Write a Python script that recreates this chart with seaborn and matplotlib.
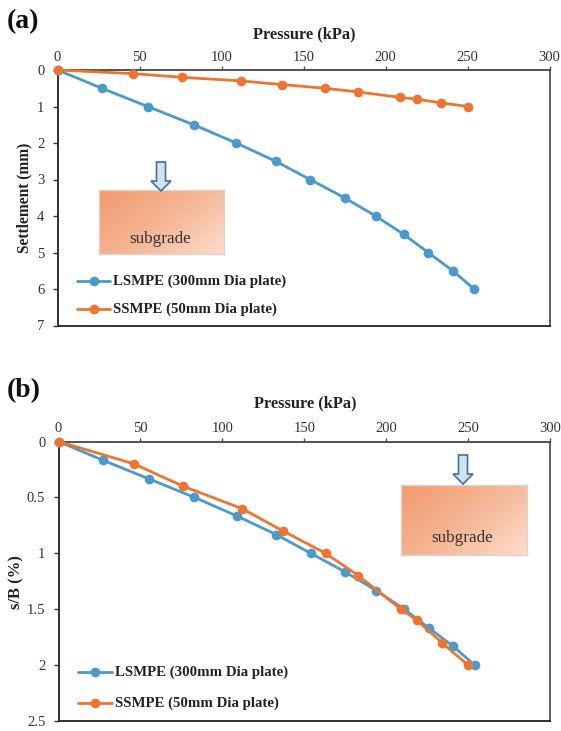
import numpy as np
import pandas as pd
import matplotlib
matplotlib.use('Agg')
import matplotlib.pyplot as plt
from matplotlib.colors import LinearSegmentedColormap
from matplotlib.lines import Line2D
from matplotlib.patches import Polygon
import seaborn as sns

# values
pressure_l = [0, 27, 55, 83, 109, 133, 154, 175, 194, 211, 226, 241, 254]
settlement_l = [0, 0.5, 1, 1.5, 2, 2.5, 3, 3.5, 4, 4.5, 5, 5.5, 6]
sb_l = [0, 0.167, 0.333, 0.5, 0.667, 0.833, 1, 1.167, 1.333, 1.5, 1.667, 1.833, 2]

pressure_s = [0, 46, 76, 112, 137, 163, 183, 209, 219, 234, 250]
settlement_s = [0, 0.1, 0.2, 0.3, 0.4, 0.5, 0.6, 0.75, 0.8, 0.9, 1]
sb_s = [0, 0.2, 0.4, 0.6, 0.8, 1, 1.2, 1.5, 1.6, 1.8, 2]

x_ticks = [0, 50, 100, 150, 200, 250, 300]
y_ticks_a = [0, 1, 2, 3, 4, 5, 6, 7]
y_ticks_b = [0, 0.5, 1, 1.5, 2, 2.5]
y_labels_b = ['0', '0.5', '1', '1.5', '2', '2.5']
labels = ['LSMPE (300mm Dia plate)', 'SSMPE (50mm Dia plate)']

BLUE = '#4a9acb'
ORANGE = '#ee7431'
W, H = 561, 731

sns.set_theme(style='white')
plt.rcParams['font.family'] = ['Liberation Serif', 'DejaVu Serif']

fig = plt.figure(figsize=(W / 100, H / 100), dpi=100)


def make_axes(left, right, top, bottom):
    return fig.add_axes([left / W, 1 - bottom / H, (right - left) / W, (bottom - top) / H])


def draw_panel(ax, ymax, yticks, ylabels, yvals_l, yvals_s):
    df = pd.concat([
        pd.DataFrame({'p': pressure_l, 'y': yvals_l, 'test': labels[0]}),
        pd.DataFrame({'p': pressure_s, 'y': yvals_s, 'test': labels[1]}),
    ])
    sns.lineplot(data=df, x='p', y='y', hue='test', palette=[BLUE, ORANGE], sort=False,
                 estimator=None, marker='o', markersize=7, markeredgewidth=0,
                 linewidth=2, ax=ax, legend=False, clip_on=False, zorder=4)
    ax.set_xlim(0, 300)
    ax.set_ylim(ymax, 0)
    ax.xaxis.tick_top()
    ax.set_xticks(x_ticks)
    ax.set_yticks(yticks)
    ax.set_yticklabels(ylabels)
    ax.tick_params(axis='x', length=3, width=1, color='#555555', pad=1.5, labelsize=10.5, labelcolor='#333333')
    ax.tick_params(axis='y', left=True, length=3.5, width=1, color='#333333', pad=6, labelsize=10.5,
                   labelcolor='#333333')
    ax.set_xlabel('')
    ax.set_ylabel('')
    for s in ax.spines.values():
        s.set_color('#555555')
        s.set_linewidth(1.3)
    ax.spines['left'].set_color('#222222')
    ax.spines['bottom'].set_color('#222222')
    ax.spines['top'].set_color('#444444')


def subgrade(left, top, right, bottom, arrow_x, arrow_top):
    # box with a diagonal gradient, drawn in pixel positions on its own axes
    box = make_axes(left, right, top, bottom)
    grad = np.linspace(0, 1, 200)[None, :] * 0.6 + np.linspace(0, 1, 100)[:, None] * 0.4
    cmap = LinearSegmentedColormap.from_list('sub', ['#f29a6e', '#f5b594', '#fddccb'])
    box.imshow(grad, cmap=cmap, aspect='auto', extent=[0, 1, 0, 1], origin='upper')
    box.set_xticks([])
    box.set_yticks([])
    for s in box.spines.values():
        s.set_color('#d9d4d0')
        s.set_linewidth(1)
    box.text(0.49, 0.24, 'subgrade', transform=box.transAxes, ha='center', va='center',
             fontsize=12.3, color='#333333')
    # arrow
    px = np.array([[-4.5, 0], [4.5, 0], [4.5, 19], [10, 19], [0, 29], [-10, 19], [-4.5, 19]], dtype=float)
    px[:, 0] = (arrow_x + px[:, 0]) / W
    px[:, 1] = 1 - (arrow_top + px[:, 1]) / H
    fig.add_artist(Polygon(px, closed=True, transform=fig.transFigure, facecolor='#d3e2f1',
                           edgecolor='#41719c', linewidth=1.2, zorder=6))


def own_legend(x0, x1, xt, ys):
    for y, c, lab in zip(ys, [BLUE, ORANGE], labels):
        fig.add_artist(Line2D([x0 / W, x1 / W], [1 - y / H, 1 - y / H], color=c, linewidth=2,
                              transform=fig.transFigure, zorder=7))
        fig.add_artist(Line2D([(x0 + x1) / 2 / W], [1 - y / H], color=c, marker='o', markersize=7,
                              markeredgewidth=0, transform=fig.transFigure, zorder=7))
        fig.text(xt / W, 1 - y / H, lab, fontweight='bold', fontsize=10.7, va='center', ha='left',
                 color='#222222', zorder=7)


# panel a
ax1 = make_axes(57.5, 549.5, 70, 325.5)
draw_panel(ax1, 7, y_ticks_a, y_ticks_a, settlement_l, settlement_s)
fig.text(24 / W, 1 - 198 / H, 'Settlement (mm)', fontweight='bold', fontsize=11.2, rotation=90,
         ha='center', va='center', color='#222222')
fig.text(304 / W, 1 - 34 / H, 'Pressure (kPa)', fontweight='bold', fontsize=11.8, ha='center',
         va='center', color='#222222')
fig.text(7 / W, 1 - 22 / H, '(a)', fontweight='bold', fontsize=20, ha='left', va='center', color='#111111')
subgrade(99, 189.5, 224.5, 254, 161, 162)
own_legend(77, 110, 113, [281, 309])

# panel b
ax2 = make_axes(58.5, 550, 441.5, 721)
draw_panel(ax2, 2.5, y_ticks_b, y_labels_b, sb_l, sb_s)
fig.text(16 / W, 1 - 582 / H, 's/B (%)', fontweight='bold', fontsize=12, rotation=90,
         ha='center', va='center', color='#222222')
fig.text(305 / W, 1 - 403 / H, 'Pressure (kPa)', fontweight='bold', fontsize=11.8, ha='center',
         va='center', color='#222222')
fig.text(7 / W, 1 - 391 / H, '(b)', fontweight='bold', fontsize=20, ha='left', va='center', color='#111111')
subgrade(401, 485, 526.5, 555, 463, 455)
own_legend(78, 112, 115, [672, 703])

fig.savefig('out.png', dpi=100)
